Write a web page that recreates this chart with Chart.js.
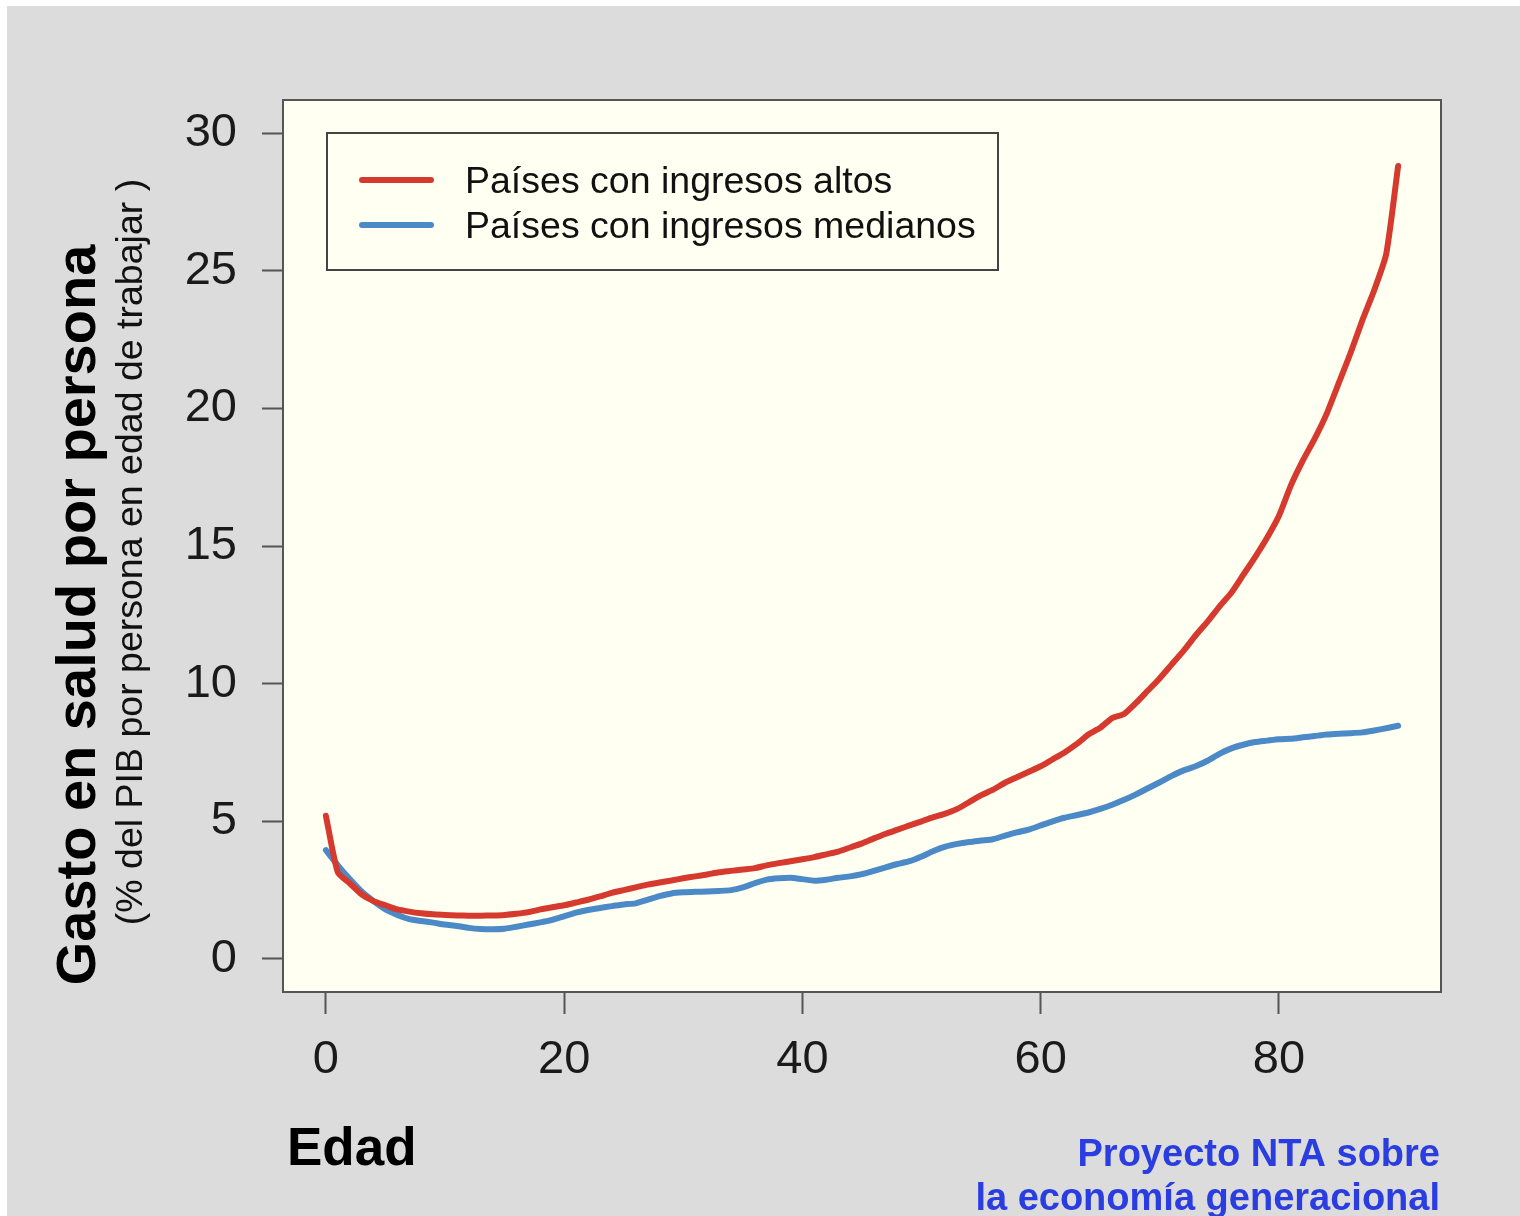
<!DOCTYPE html>
<html><head><meta charset="utf-8">
<script src="https://cdn.jsdelivr.net/npm/chart.js@4/dist/chart.umd.min.js"></script>
<style>html,body{margin:0;padding:0;background:#fff;} canvas{display:block;}</style>
</head><body>
<canvas id="c" width="1520" height="1216"></canvas>
<script>
const ages = [0,1,2,3,4,5,6,7,8,9,10,11,12,13,14,15,16,17,18,19,20,21,22,23,24,25,26,27,28,29,30,31,32,33,34,35,36,37,38,39,40,41,42,43,44,45,46,47,48,49,50,51,52,53,54,55,56,57,58,59,60,61,62,63,64,65,66,67,68,69,70,71,72,73,74,75,76,77,78,79,80,81,82,83,84,85,86,87,88,89,90];
const highIncome = [5.2,3.15,2.75,2.35,2.1,1.95,1.8,1.72,1.66,1.62,1.6,1.58,1.57,1.57,1.58,1.6,1.64,1.7,1.8,1.88,1.95,2.05,2.15,2.27,2.4,2.5,2.6,2.7,2.78,2.85,2.93,3.0,3.07,3.15,3.2,3.25,3.3,3.4,3.48,3.55,3.62,3.7,3.8,3.9,4.05,4.2,4.38,4.55,4.7,4.85,5.0,5.15,5.28,5.45,5.7,5.95,6.15,6.4,6.6,6.8,7.0,7.25,7.5,7.8,8.15,8.4,8.75,8.9,9.3,9.75,10.2,10.7,11.2,11.75,12.25,12.8,13.3,13.95,14.6,15.3,16.1,17.2,18.1,18.9,19.8,20.9,22.0,23.2,24.3,25.6,28.8];
const middleIncome = [3.95,3.4,2.9,2.45,2.1,1.8,1.6,1.45,1.38,1.32,1.25,1.2,1.13,1.09,1.08,1.1,1.17,1.25,1.33,1.42,1.55,1.68,1.78,1.85,1.92,1.98,2.02,2.15,2.28,2.38,2.42,2.44,2.45,2.47,2.5,2.6,2.75,2.88,2.93,2.95,2.9,2.84,2.88,2.95,3.0,3.08,3.2,3.33,3.45,3.55,3.72,3.92,4.08,4.18,4.25,4.3,4.35,4.48,4.6,4.7,4.85,5.0,5.13,5.22,5.32,5.45,5.6,5.78,5.98,6.2,6.42,6.65,6.85,7.0,7.2,7.45,7.65,7.78,7.88,7.93,7.98,8.0,8.05,8.1,8.15,8.18,8.2,8.23,8.3,8.38,8.47];
const xTicks = [0,20,40,60,80];
const yTicks = [0,5,10,15,20,25,30];
const seriesLabels = ['Países con ingresos altos','Países con ingresos medianos'];
const seriesColors = ['#d63a2f','#4b8ac6'];
const yTitle = 'Gasto en salud por persona';
const ySubtitle = '(% del PIB por persona en edad de trabajar )';
const xTitle = 'Edad';
const credit = ['Proyecto NTA sobre','la economía generacional'];

const FONT = "'Liberation Sans', Arial, Helvetica, sans-serif";

const decor = {
  id: 'decor',
  beforeDraw(chart) {
    const ctx = chart.ctx, a = chart.chartArea;
    ctx.save();
    ctx.fillStyle = '#ffffff';
    ctx.fillRect(0, 0, chart.width, chart.height);
    ctx.fillStyle = '#dcdcdc';
    ctx.fillRect(7, 6, chart.width - 7, chart.height - 6);
    ctx.fillStyle = '#fffff2';
    ctx.fillRect(a.left, a.top, a.right - a.left, a.bottom - a.top);
    ctx.restore();
  },
  afterDraw(chart) {
    const ctx = chart.ctx, a = chart.chartArea;
    ctx.save();
    // plot frame
    ctx.strokeStyle = '#555555';
    ctx.lineWidth = 2;
    ctx.strokeRect(a.left, a.top, a.right - a.left, a.bottom - a.top);
    // legend
    ctx.fillStyle = '#fffff2';
    ctx.fillRect(327, 133, 671, 137);
    ctx.strokeStyle = '#444444';
    ctx.lineWidth = 2;
    ctx.strokeRect(327, 133, 671, 137);
    const ly = [180, 225];
    chart.data.datasets.forEach((ds, i) => {
      ctx.strokeStyle = ds.borderColor;
      ctx.lineWidth = 6;
      ctx.lineCap = 'round';
      ctx.beginPath();
      ctx.moveTo(362, ly[i]);
      ctx.lineTo(431, ly[i]);
      ctx.stroke();
      ctx.fillStyle = '#111111';
      ctx.font = '37.5px ' + FONT;
      ctx.textAlign = 'left';
      ctx.textBaseline = 'middle';
      ctx.fillText(ds.label, 465, ly[i] + 3);
    });
    // y titles
    ctx.fillStyle = '#000000';
    ctx.textAlign = 'center';
    ctx.textBaseline = 'alphabetic';
    ctx.save();
    ctx.translate(95, 615);
    ctx.rotate(-Math.PI / 2);
    ctx.font = 'bold 56px ' + FONT;
    ctx.fillText(yTitle, 0, 0);
    ctx.restore();
    ctx.save();
    ctx.translate(142, 552);
    ctx.rotate(-Math.PI / 2);
    ctx.font = '37.5px ' + FONT;
    ctx.fillStyle = '#111111';
    ctx.fillText(ySubtitle, 0, 0);
    ctx.restore();
    // x title
    ctx.textAlign = 'left';
    ctx.font = 'bold 53px ' + FONT;
    ctx.fillStyle = '#000000';
    ctx.fillText(xTitle, 287, 1165);
    // credit
    ctx.textAlign = 'right';
    ctx.font = 'bold 38px ' + FONT;
    ctx.fillStyle = '#2a3de0';
    ctx.fillText(credit[0], 1440, 1166);
    ctx.fillText(credit[1], 1440, 1210);
    ctx.restore();
  }
};

const tickFont = { size: 47, family: FONT };
new Chart(document.getElementById('c'), {
  type: 'line',
  data: {
    datasets: [
      { label: seriesLabels[0], data: ages.map((a, i) => ({ x: a, y: highIncome[i] })), borderColor: seriesColors[0], borderWidth: 6, pointRadius: 0, tension: 0.2, borderCapStyle: 'round', borderJoinStyle: 'round', fill: false },
      { label: seriesLabels[1], data: ages.map((a, i) => ({ x: a, y: middleIncome[i] })), borderColor: seriesColors[1], borderWidth: 6, pointRadius: 0, tension: 0.2, borderCapStyle: 'round', borderJoinStyle: 'round', fill: false }
    ]
  },
  options: {
    responsive: false,
    animation: false,
    events: [],
    layout: { padding: { top: 100, right: 79, left: 0, bottom: 0 } },
    plugins: { legend: { display: false }, tooltip: { enabled: false }, title: { display: false } },
    scales: {
      x: {
        type: 'linear', min: -3.6, max: 93.6,
        afterBuildTicks: s => { s.ticks = xTicks.map(v => ({ value: v })); },
        afterFit: s => { s.height = 224; },
        grid: { drawOnChartArea: false, drawTicks: true, tickLength: 22, tickWidth: 2, tickColor: '#555555' },
        border: { display: false },
        ticks: { font: tickFont, color: '#1a1a1a', padding: 18, maxRotation: 0, autoSkip: false }
      },
      y: {
        type: 'linear', min: -1.2, max: 31.2,
        afterBuildTicks: s => { s.ticks = yTicks.map(v => ({ value: v })); },
        afterFit: s => { s.width = 283; },
        grid: { drawOnChartArea: false, drawTicks: true, tickLength: 21, tickWidth: 2, tickColor: '#555555' },
        border: { display: false },
        ticks: { font: tickFont, color: '#1a1a1a', padding: 25, autoSkip: false }
      }
    }
  },
  plugins: [decor]
});
</script>
</body></html>
